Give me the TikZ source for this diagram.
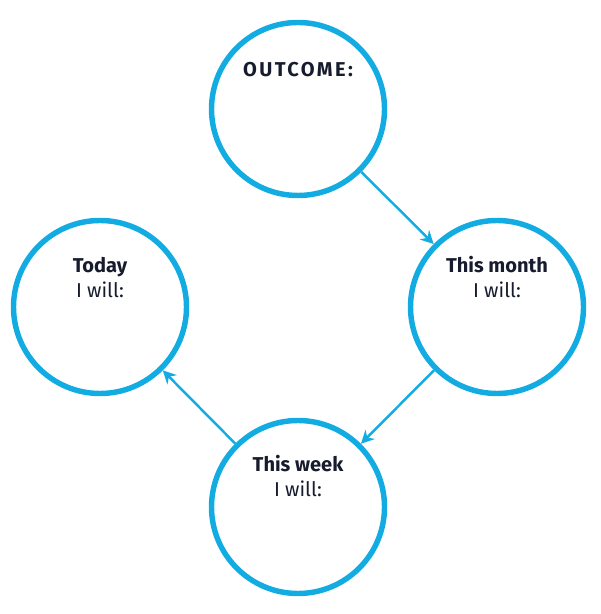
\documentclass[tikz,border=0pt]{standalone}
\usepackage{fontspec}
\setmainfont{Fira Sans}
\usetikzlibrary{
  arrows.meta,
  positioning
}
\definecolor{ringblue}{RGB}{18,172,226}
\definecolor{inkblue}{RGB}{22,27,45}

\begin{document}
\begin{tikzpicture}[
    ring/.style={circle,draw=ringblue,line width=3.1pt,minimum size=3.46cm,inner sep=0pt},
    flow/.style={draw=ringblue,line width=1.4pt,-{Stealth[length=7.5pt,width=7.5pt,inset=2.5pt]}},
    headtext/.style={anchor=base,text=inkblue,font=\fontsize{11.4}{14}\selectfont\bfseries},
    willtext/.style={anchor=base,text=inkblue,font=\fontsize{11.4}{14}\selectfont}
  ]
    %initialisation
    \useasboundingbox (0,0) rectangle (12,12.28);
    %definitions
    \node[ring] (outcome) at (5.96,10.10) {};
    \node[ring] (month)   at (9.94,6.14)  {};
    \node[ring] (week)    at (5.96,2.14)  {};
    \node[ring] (today)   at (2.00,6.14)  {};
    %texts
    \node[headtext] (outcometext) at ([yshift=0.64cm]outcome.center) {\addfontfeature{LetterSpace=12}OUTCOME:};
    \node[headtext] (monthtext) at ([yshift=0.68cm]month.center) {This month};
    \node[willtext] (monthwill) at ([yshift=0.19cm]month.center) {I will:};
    \node[headtext] (weektext) at ([yshift=0.70cm]week.center) {This week};
    \node[willtext] (weekwill) at ([yshift=0.20cm]week.center) {I will:};
    \node[headtext] (todaytext) at ([yshift=0.68cm]today.center) {Today};
    \node[willtext] (todaywill) at ([yshift=0.19cm]today.center) {I will:};
    %arrows
    \draw[flow] (outcome) -- (month);
    \draw[flow] (month) -- (week);
    \draw[flow] (week) -- (today);
\end{tikzpicture}
\end{document}
